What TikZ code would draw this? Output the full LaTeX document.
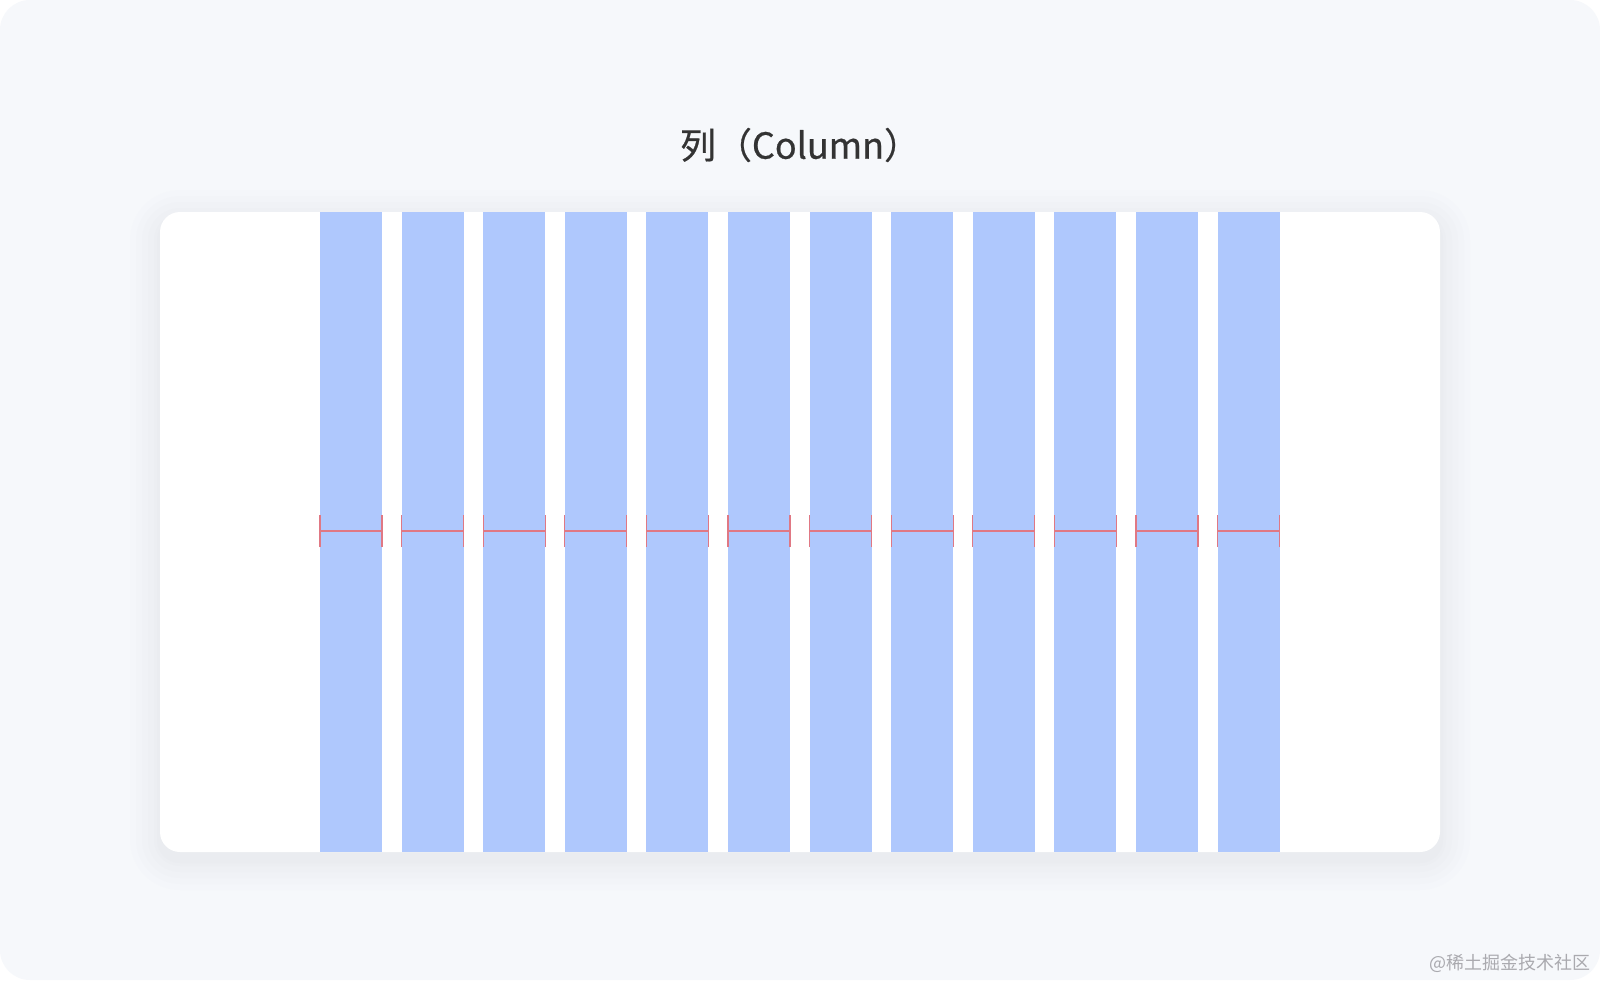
\documentclass[tikz,border=0pt]{standalone}
\usepackage{fontspec}
\setmainfont{Noto Sans CJK SC}
\newfontfamily\cjk{Noto Sans CJK SC}
\newfontfamily\cjktitle[FakeBold=0.6]{Noto Sans CJK SC}
\definecolor{pagebg}{RGB}{246,248,251}
\definecolor{colblue}{RGB}{175,200,253}
\definecolor{measred}{RGB}{224,120,132}
\definecolor{titlegray}{RGB}{51,51,51}
\definecolor{wmgray}{RGB}{170,170,175}
\definecolor{shadowc}{RGB}{200,205,220}
\tikzset{
  colbar/.style={fill=colblue, draw=none},
  measline/.style={draw=measred, line width=1.3pt},
}
\begin{document}
\begin{tikzpicture}[x=1pt,y=-1pt]
\useasboundingbox (0,0) rectangle (1600,980);
\fill[white] (0,0) rectangle (1600,980);
\fill[pagebg, rounded corners=30pt] (0,0) rectangle (1600,980);
% card shadow
\foreach \s/\o in {30/0.03,24/0.035,18/0.04,12/0.045,6/0.05,3/0.05}{
  \fill[shadowc, opacity=\o, rounded corners=20pt+\s pt] (160-\s,212-\s+8) rectangle (1440+\s,852+\s+8);
}
\fill[white, rounded corners=20pt] (160,212) rectangle (1440,852);
% title
\node[text=titlegray, font=\cjktitle\fontsize{36}{42}\selectfont] (title) at (800,145) {列（Column）};
% columns
\foreach \i in {0,...,11}{
  \pgfmathsetmacro{\xl}{320+\i*81.6}
  \pgfmathsetmacro{\xr}{\xl+62}
  \path[colbar] (\xl,212) rectangle (\xr,852);
  \coordinate (l\i) at (\xl,531);
  \coordinate (r\i) at (\xr,531);
  \draw[measline] (l\i) -- (r\i);
  \draw[measline] ([yshift=-16pt]l\i) -- ([yshift=16pt]l\i);
  \draw[measline] ([yshift=-16pt]r\i) -- ([yshift=16pt]r\i);
}
% watermark
\node[text=wmgray, font=\cjk\fontsize{18}{20}\selectfont, anchor=east] (wm) at (1594,963) {@稀土掘金技术社区};
\end{tikzpicture}
\end{document}
